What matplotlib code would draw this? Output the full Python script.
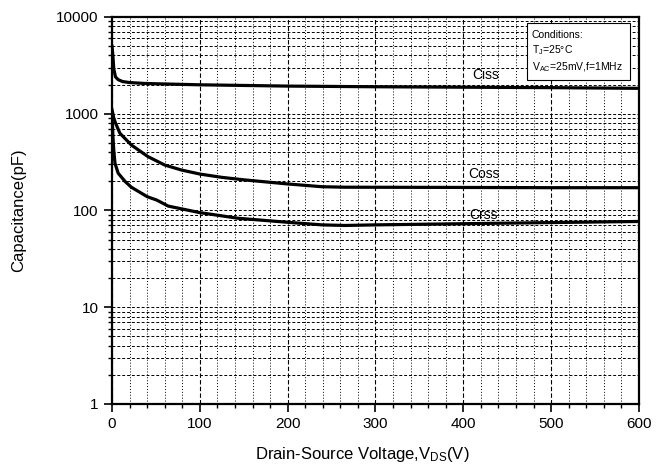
import matplotlib
matplotlib.use('Agg')
import matplotlib.pyplot as plt
from matplotlib.patches import Rectangle
from matplotlib.ticker import MultipleLocator, LogLocator, NullFormatter

plt.rcParams['font.family'] = ['Liberation Sans', 'DejaVu Sans']
plt.rcParams['mathtext.fontset'] = 'custom'
plt.rcParams['mathtext.rm'] = 'Liberation Sans'

# Data
vds_ciss = [0, 1, 2, 4, 7, 12, 20, 35, 50, 100, 200, 300, 400, 500, 600]
ciss = [5000, 4000, 2900, 2400, 2250, 2150, 2100, 2060, 2040, 1990, 1930, 1900, 1880, 1860, 1830]

vds_coss = [0, 1, 2, 4, 9, 22, 41, 60, 79, 100, 125, 151, 200, 239, 265, 400, 500, 600]
coss = [1100, 1000, 900, 800, 628, 475, 360, 295, 262, 238, 220, 207, 188, 176, 174, 173, 172, 172]

vds_crss = [0, 1, 2, 3.4, 7, 15, 22, 40, 51, 64, 100, 144, 200, 239, 265, 300, 400, 500, 600]
crss = [1000, 600, 420, 307, 243, 199, 174, 139, 128, 111, 95, 83, 75.5, 71, 70, 71, 73, 75, 77]

fig = plt.figure(figsize=(6.62, 4.74), dpi=100)
ax = fig.add_axes([0.1692, 0.1477, 0.796, 0.8165])

for x, y in [(vds_ciss, ciss), (vds_coss, coss), (vds_crss, crss)]:
    ax.plot(x, y, color='black', lw=2.3)

ax.set_yscale('log')
ax.set_xlim(0, 600)
ax.set_ylim(1, 10000)
ax.xaxis.set_major_locator(MultipleLocator(100))
ax.xaxis.set_minor_locator(MultipleLocator(20))
ax.yaxis.set_minor_locator(LogLocator(base=10, subs=range(2, 10), numticks=20))
ax.yaxis.set_minor_formatter(NullFormatter())
ax.set_yticks([1, 10, 100, 1000, 10000])
ax.set_yticklabels(['1', '10', '100', '1000', '10000'])

ax.grid(which='major', axis='x', ls=(0, (4, 2)), color='black', lw=0.8)
ax.grid(which='minor', axis='x', ls=(0, (1, 2)), color='black', lw=0.7)
ax.grid(which='both', axis='y', ls=(0, (3, 2)), color='black', lw=0.7)

for s in ax.spines.values():
    s.set_linewidth(1.6)
ax.tick_params(which='major', direction='out', length=6, width=1.2, labelsize=11)
ax.tick_params(which='minor', direction='out', length=3, width=1.0)

ax.set_xlabel(r'Drain-Source Voltage,V$\mathregular{_{DS}}$(V)', fontsize=12,
              labelpad=10, x=0.475)
ax.set_ylabel('Capacitance(pF)', fontsize=12, labelpad=22)

ax.text(425, 2510, 'Ciss', fontsize=10, ha='center', va='center')
ax.text(424, 238, 'Coss', fontsize=10, ha='center', va='center')
ax.text(423, 90, 'Crss', fontsize=10, ha='center', va='center')

# conditions box
ax.add_patch(Rectangle((0.7875, 0.837), 0.1955, 0.1475, transform=ax.transAxes,
                       fc='white', ec='black', lw=0.8, zorder=5))
box_lines = ['Conditions:', 'T$\\mathregular{_J}$=25°C', 'V$\\mathregular{_{AC}}$=25mV,f=1MHz']
for txt, yy in zip(box_lines, [0.953, 0.914, 0.871]):
    ax.text(0.797, yy, txt, transform=ax.transAxes, ha='left', va='center',
            fontsize=7.5, zorder=6)

fig.savefig('out.png', dpi=100)
